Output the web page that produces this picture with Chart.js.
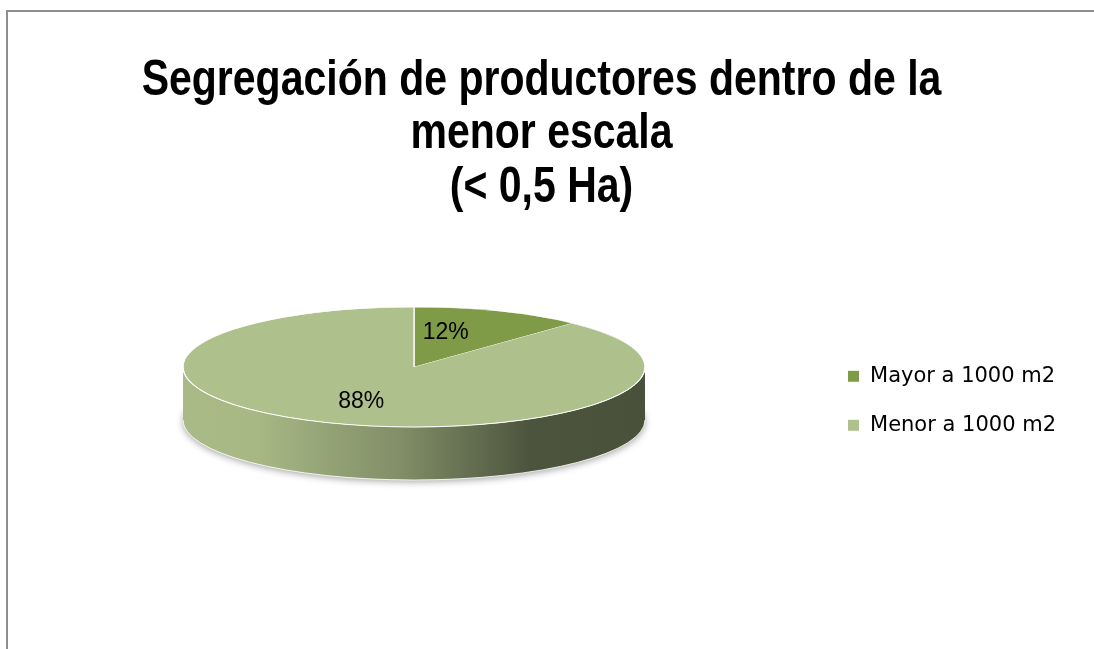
<!DOCTYPE html>
<html>
<head>
<meta charset="utf-8">
<script src="https://cdn.jsdelivr.net/npm/chart.js@4.4.1/dist/chart.umd.min.js"></script>
<style>
  html, body { margin: 0; padding: 0; background: #fff; }
  #wrap { position: relative; width: 1094px; height: 649px; }
  #frame { position: absolute; left: 6px; top: 10px; right: 0; bottom: 0;
           border-left: 2px solid #8e8e8e; border-top: 2px solid #8e8e8e; pointer-events: none; }
</style>
</head>
<body>
<div id="wrap">
  <canvas id="chart" width="1094" height="649"></canvas>
  <div id="frame"></div>
</div>
<script>
// chart data
const categories = ["Mayor a 1000 m2", "Menor a 1000 m2"];
const shares = [12, 88];
const sliceColors = ["#809B48", "#AEC08B"];
const titleLines = ["Segregación de productores dentro de la", "menor escala", "(< 0,5 Ha)"];

// darken a hex colour by a factor
function shade(hex, f) {
  const n = parseInt(hex.slice(1), 16);
  const r = Math.round(((n >> 16) & 255) * f);
  const g = Math.round(((n >> 8) & 255) * f);
  const b = Math.round((n & 255) * f);
  return "rgb(" + r + "," + g + "," + b + ")";
}

// no narrow font installed, so squeeze the title block sideways
const narrowTitle = {
  id: "narrowTitle",
  beforeDraw(chart, args, opts) {
    const t = chart.titleBlock;
    if (!t || t._narrow) return;
    const draw = t.draw.bind(t);
    t.draw = function (area) {
      const c = chart.ctx;
      const mid = (t.left + t.right) / 2;
      c.save();
      c.translate(mid, 0);
      c.scale(opts.squeeze, 1);
      c.translate(-mid, 0);
      draw(area);
      c.restore();
    };
    t._narrow = true;
  }
};

// fakes the excel 3d pie: squashes the flat pie and draws the side wall under it
const pie3d = {
  id: "pie3d",
  beforeDatasetsDraw(chart, args, opts) {
    const ctx = chart.ctx;
    const meta = chart.getDatasetMeta(0);
    const { cx, cy, rx, ry, depth } = opts;

    // soft shadow under the wall
    ctx.save();
    ctx.beginPath();
    ctx.ellipse(cx, cy + depth, rx, ry, 0, 0, Math.PI * 2);
    ctx.shadowColor = "rgba(0,0,0,0.35)";
    ctx.shadowBlur = 7;
    ctx.shadowOffsetY = 2;
    ctx.fillStyle = "#fff";
    ctx.fill();
    ctx.restore();

    // side wall, only the front half is seen
    meta.data.forEach((arc) => {
      const color = arc.options.backgroundColor;
      for (let k = -1; k <= 1; k++) {
        const a1 = Math.max(arc.startAngle, k * 2 * Math.PI);
        const a2 = Math.min(arc.endAngle, k * 2 * Math.PI + Math.PI);
        if (a2 <= a1) continue;
        const g = ctx.createLinearGradient(cx - rx, 0, cx + rx, 0);
        opts.wallShade.forEach((s) => g.addColorStop(s[0], shade(color, s[1])));
        ctx.beginPath();
        ctx.ellipse(cx, cy, rx, ry, 0, a1, a2);
        ctx.ellipse(cx, cy + depth, rx, ry, 0, a2, a1, true);
        ctx.closePath();
        ctx.fillStyle = g;
        ctx.fill();
      }
    });
    // bottom rim
    ctx.save();
    ctx.strokeStyle = "rgba(255,255,255,0.8)";
    ctx.lineWidth = 1;
    ctx.beginPath();
    ctx.ellipse(cx, cy + depth, rx, ry, 0, 0, Math.PI);
    ctx.stroke();
    ctx.restore();

    // squash the flat pie onto the top ellipse
    const el = meta.data[0];
    const r = el.outerRadius;
    ctx.save();
    ctx.translate(cx, cy);
    ctx.scale(rx / r, ry / r);
    ctx.translate(-el.x, -el.y);
  },
  afterDatasetsDraw(chart, args, opts) {
    const ctx = chart.ctx;
    ctx.restore();
    const meta = chart.getDatasetMeta(0);
    const { cx, cy, rx, ry } = opts;

    // light edge on the front of the top
    ctx.save();
    ctx.strokeStyle = "rgba(255,255,255,0.9)";
    ctx.lineWidth = 1;
    ctx.beginPath();
    ctx.ellipse(cx, cy, rx, ry, 0, 0, Math.PI);
    ctx.stroke();

    // percent labels
    const total = shares.reduce((a, b) => a + b, 0);
    ctx.font = "23px 'Liberation Sans'";
    ctx.fillStyle = "#000";
    ctx.textAlign = "center";
    ctx.textBaseline = "middle";
    meta.data.forEach((arc, i) => {
      const mid = (arc.startAngle + arc.endAngle) / 2;
      const x = cx + rx * opts.labelFrac * Math.cos(mid) + opts.labelShiftX[i];
      const y = cy + ry * opts.labelFrac * Math.sin(mid);
      ctx.fillText(Math.round(shares[i] / total * 100) + "%", x, y);
    });
    ctx.restore();
  }
};

const ctx = document.getElementById("chart");
const chart = new Chart(ctx, {
  type: "pie",
  data: {
    labels: categories,
    datasets: [{
      data: shares,
      backgroundColor: sliceColors,
      borderColor: "#ffffff",
      borderWidth: 1,
      clip: false
    }]
  },
  plugins: [narrowTitle, pie3d],
  options: {
    responsive: false,
    animation: false,
    events: [],
    layout: { padding: { left: 17, right: 28, top: 0, bottom: 62 } },
    plugins: {
      title: {
        display: true,
        text: titleLines,
        color: "#000",
        font: { family: "'Liberation Sans'", weight: "bold", size: 50, lineHeight: 1.07 },
        padding: { top: 54, bottom: 0 }
      },
      legend: {
        position: "right",
        fullSize: false,
        labels: {
          boxWidth: 12,
          boxHeight: 12,
          padding: 28,
          color: "#000",
          font: { family: "'DejaVu Sans'", size: 21 }
        }
      },
      tooltip: { enabled: false },
      narrowTitle: { squeeze: 0.82 },
      pie3d: {
        cx: 414, cy: 367, rx: 231, ry: 60, depth: 53,
        labelFrac: 0.62,
        labelShiftX: [-21, 0],
        wallShade: [[0, 0.97], [0.16, 0.96], [0.47, 0.74], [0.75, 0.44], [1, 0.42]]
      }
    }
  }
});
</script>
</body>
</html>
